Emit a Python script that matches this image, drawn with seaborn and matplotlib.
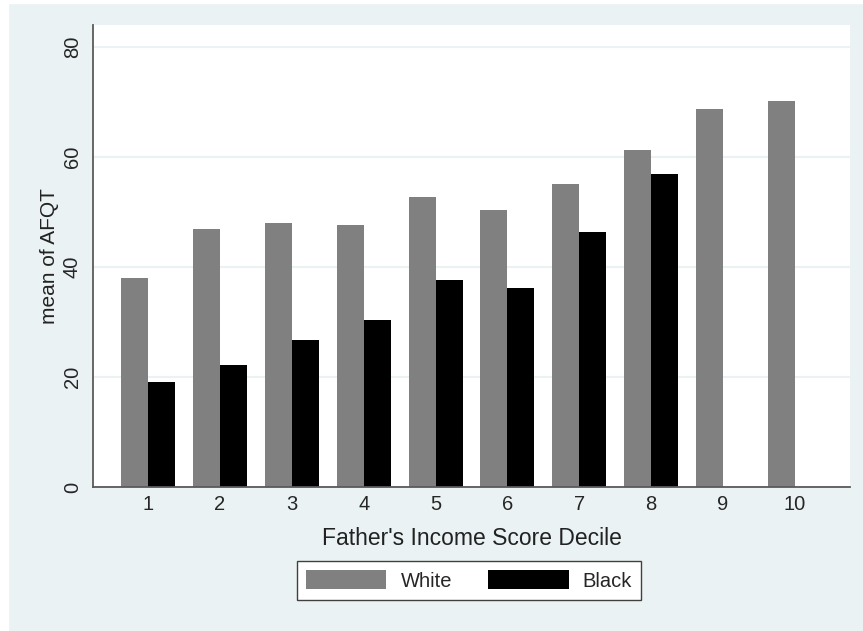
import numpy as np
import pandas as pd
import matplotlib
matplotlib.use("Agg")
import matplotlib.pyplot as plt
from matplotlib.patches import Rectangle
import seaborn as sns

# data
deciles = ["1", "2", "3", "4", "5", "6", "7", "8", "9", "10"]
white_afqt = [38.0, 46.9, 48.0, 47.6, 52.7, 50.4, 55.1, 61.3, 68.7, 70.2]
black_afqt = [19.1, 22.2, 26.7, 30.4, 37.6, 36.2, 46.4, 57.0, np.nan, np.nan]
groups = ["White", "Black"]
bar_colors = {"White": "#808080", "Black": "#000000"}

df = pd.DataFrame({
    "decile": deciles * 2,
    "race": ["White"] * len(deciles) + ["Black"] * len(deciles),
    "afqt": white_afqt + black_afqt,
})

bg = "#EAF2F3"
axis_col = "#5a5a5a"

sns.set_style("white")
plt.rcParams["font.family"] = ["Liberation Sans", "DejaVu Sans"]

fig = plt.figure(figsize=(8.63, 6.31), dpi=100, facecolor=bg)
# thin white strip on the left / top edge like the original export
fig.patches.append(Rectangle((0, 0), 8 / 863, 1, transform=fig.transFigure,
                             color="white", zorder=-1))
fig.patches.append(Rectangle((0, 1 - 3 / 631), 1, 3 / 631, transform=fig.transFigure,
                             color="white", zorder=-1))

ax = fig.add_axes([93 / 863, 1 - 487 / 631, 757 / 863, 462 / 631])
ax.set_facecolor("white")

sns.barplot(data=df, x="decile", y="afqt", hue="race", order=deciles,
            hue_order=groups, palette=bar_colors, width=0.75, errorbar=None,
            saturation=1, linewidth=0, ax=ax)

ax.set_xlim(-0.765, 9.765)
ax.set_ylim(0, 84)
ax.set_yticks([0, 20, 40, 60, 80])
ax.yaxis.grid(True, color=bg, linewidth=1.5)
ax.set_axisbelow(True)

for s in ["top", "right"]:
    ax.spines[s].set_visible(False)
for s in ["left", "bottom"]:
    ax.spines[s].set_color(axis_col)
    ax.spines[s].set_linewidth(1.3)

ax.tick_params(axis="y", length=8, width=1.3, color=axis_col, direction="out",
               labelsize=14.5, pad=0)
ax.tick_params(axis="x", length=0, labelsize=14.5, pad=6)
for lab in ax.get_yticklabels():
    lab.set_rotation(90)
    lab.set_va("center")

ax.set_xlabel("Father's Income Score Decile", fontsize=16.5, labelpad=9, color="#222222")
ax.set_ylabel("mean of AFQT", fontsize=15, labelpad=3, color="#222222")

handles, labels = ax.get_legend_handles_labels()
ax.legend(handles, labels, ncol=2, loc="upper center",
          bbox_to_anchor=(469 / 863, 1 - 561 / 631), bbox_transform=fig.transFigure,
          borderaxespad=0, fontsize=14.5, handlelength=4.0, handleheight=1.1,
          handletextpad=0.7, columnspacing=1.8, borderpad=0.45, fancybox=False,
          framealpha=1, edgecolor="#404040", facecolor="white")
ax.get_legend().get_frame().set_linewidth(1.0)

fig.savefig("out.png", dpi=100, facecolor=fig.get_facecolor())
